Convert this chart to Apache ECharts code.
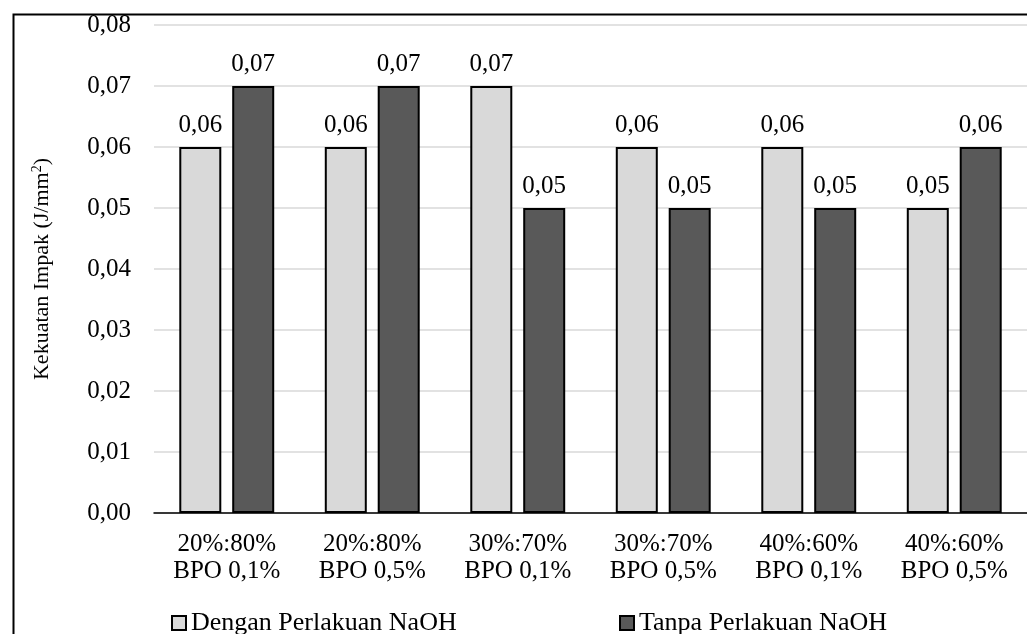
<!DOCTYPE html>
<html><head><meta charset="utf-8">
<script src="https://cdn.jsdelivr.net/npm/echarts@6/dist/echarts.min.js"></script>
<style>html,body{margin:0;padding:0;background:#fff}#c{width:1027px;height:634px}</style>
</head><body><div id="c"></div>
<script>
var categories = ['20%:80%\nBPO 0,1%','20%:80%\nBPO 0,5%','30%:70%\nBPO 0,1%','30%:70%\nBPO 0,5%','40%:60%\nBPO 0,1%','40%:60%\nBPO 0,5%'];
var denganNaOH = [0.06,0.06,0.07,0.06,0.06,0.05];
var tanpaNaOH = [0.07,0.07,0.05,0.05,0.05,0.06];
var seriesNames = ['Dengan Perlakuan NaOH','Tanpa Perlakuan NaOH'];
var yTicks = {min:0,max:0.08,interval:0.01};

var font = 'Liberation Serif';
var fmt = function(v){return v.toFixed(2).replace('.',',');};
var chart = echarts.init(document.getElementById('c'));
var legendText = {fontFamily:font,fontSize:26,color:'#000'};
chart.setOption({
  animation:false,
  textStyle:{fontFamily:font,color:'#000'},
  graphic:[{type:'rect',left:11,top:12,shape:{width:1100,height:700},style:{fill:'none',stroke:'#000',lineWidth:2},silent:true}],
  grid:{left:154,top:25,width:879,height:488,containLabel:false},
  legend:[
    {top:605,left:166,icon:'rect',itemWidth:14,itemHeight:14,itemGap:4,textStyle:legendText,data:[seriesNames[0]]},
    {top:605,left:614,icon:'rect',itemWidth:14,itemHeight:14,itemGap:4,textStyle:legendText,data:[seriesNames[1]]}
  ],
  xAxis:{type:'category',data:categories,
    axisLine:{lineStyle:{color:'#000',width:1.5}},axisTick:{show:false},
    axisLabel:{fontFamily:font,fontSize:25,color:'#000',lineHeight:27,margin:18}},
  yAxis:{type:'value',min:yTicks.min,max:yTicks.max,interval:yTicks.interval,
    name:'Kekuatan Impak (J/mm{s|2})',nameLocation:'middle',nameGap:100,nameRotate:90,
    nameTextStyle:{fontFamily:font,fontSize:22,color:'#000',rich:{s:{fontFamily:font,fontSize:14,verticalAlign:'top',padding:[0,0,10,0]}}},
    axisLine:{show:false},axisTick:{show:false},
    splitLine:{lineStyle:{color:'#d9d9d9',width:1.5}},
    axisLabel:{fontFamily:font,fontSize:25,color:'#000',margin:23,formatter:fmt}},
  series:[
    {name:seriesNames[0],type:'bar',data:denganNaOH,barWidth:42,barGap:'26%',
     itemStyle:{color:'#d9d9d9',borderColor:'#000',borderWidth:2},
     label:{show:true,position:'top',distance:9,fontFamily:font,fontSize:25,color:'#000',formatter:function(p){return fmt(p.value);}}},
    {name:seriesNames[1],type:'bar',data:tanpaNaOH,barWidth:42,
     itemStyle:{color:'#595959',borderColor:'#000',borderWidth:2},
     label:{show:true,position:'top',distance:9,fontFamily:font,fontSize:25,color:'#000',formatter:function(p){return fmt(p.value);}}}
  ]
});
</script></body></html>
